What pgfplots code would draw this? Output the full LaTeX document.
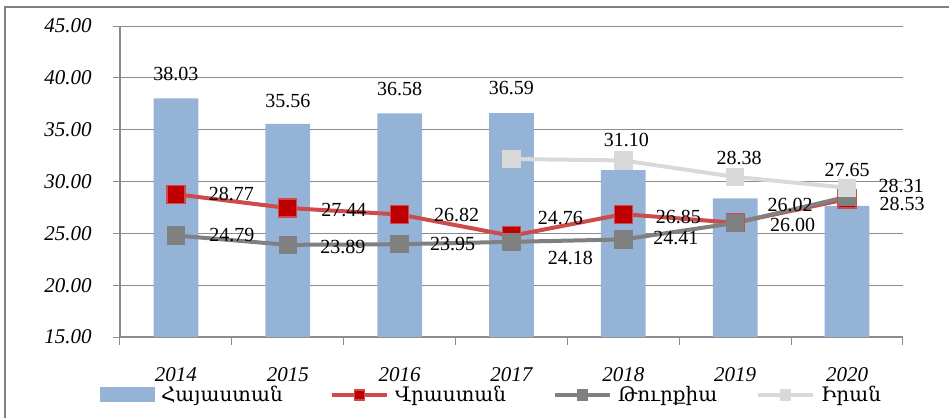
\documentclass[border=0pt]{standalone}
\usepackage{pgfplots}
\pgfplotsset{compat=1.18}
\usepackage{pgfplotstable}
\usepackage{fontspec}
\setmainfont{Liberation Serif}
\newfontfamily\armfont{DejaVu Serif}

\definecolor{barblue}{RGB}{149,179,215}
\definecolor{geoline}{RGB}{205,75,75}
\definecolor{geomark}{RGB}{192,0,0}
\definecolor{turline}{RGB}{128,128,128}
\definecolor{irnline}{RGB}{217,217,217}
\definecolor{axgray}{RGB}{140,140,140}
\definecolor{framegray}{RGB}{128,128,128}

\pgfplotsset{
  lineleg/.style={legend image code/.code={%
    \draw[##1, mark=none] (0pt,0pt) -- (27.5pt,0pt);
    \draw[##1, mark size=2.5pt] plot coordinates {(13.75pt,0pt)};}},
  barleg/.style={legend image code/.code={\fill[barblue] (0pt,-3.75pt) rectangle (27.5pt,3.75pt);}},
  vallabels/.style={
    point meta=y,
    nodes near coords={\pgfmathprintnumber[fixed,fixed zerofill,precision=2]{\pgfplotspointmeta}},
    visualization depends on={\thisrow{dx} \as \labdx},
    visualization depends on={\thisrow{dy} \as \labdy},
    every node near coord/.append style={anchor=center, inner sep=0pt,
      xshift=\labdx pt, yshift=\labdy pt,
      font=\fontsize{10}{12}\selectfont, text=black}},
}

% Armenia (bars): x, value, label offset in pt
\pgfplotstableread{
x y dx dy
0 38.03 0 12.25
1 35.56 0 11.5
2 36.58 0 12
3 36.59 0 12.5
4 31.10 1.5 15
5 28.38 2 20
6 27.65 0 17.75
}\arm

% Georgia
\pgfplotstableread{
x y dx dy
0 28.77 27.75 0
1 27.44 28 -1
2 26.82 28.5 -0.5
3 24.76 24.5 9
4 26.85 27.5 -1.5
5 26.02 27.5 9
6 28.31 27 6.5
}\geo

% Turkey
\pgfplotstableread{
x y dx dy
0 24.79 28 0
1 23.89 27.5 -1
2 23.95 26.5 0
3 24.18 29.5 -8
4 24.41 26.25 0.5
5 26.00 28.75 -1
6 28.53 27.5 -3.5
}\tur

% Iran
\pgfplotstableread{
x y
3 32.17
4 32.03
5 30.44
6 29.40
}\irn

\begin{document}
\begin{tikzpicture}
\path[use as bounding box] (-60pt,-40.5pt) rectangle (414.5pt,168.5pt);
\draw[framegray, line width=1pt] (-57.5pt,-45pt) -- (-57.5pt,165pt) -- (420pt,165pt);
\begin{axis}[
  scale only axis,
  width=391.5pt, height=155.5pt,
  xmin=-0.5, xmax=6.5,
  ymin=15, ymax=45,
  ytick={15,20,...,45},
  xtick={0,...,6},
  xticklabels={2014,2015,2016,2017,2018,2019,2020},
  minor xtick={-0.5,0.5,...,6.5},
  axis x line*=bottom,
  axis y line*=left,
  axis line style={axgray, line width=0.6pt},
  ymajorgrids,
  grid style={axgray, line width=0.5pt},
  tick align=outside,
  major tick length=3.5pt,
  minor tick length=4pt,
  xtick style={draw=none},
  minor x tick style={draw=axgray, line width=0.5pt},
  ytick style={axgray, line width=0.5pt},
  /pgf/number format/assume math mode=true,
  y tick label style={/pgf/number format/.cd, fixed, fixed zerofill, precision=2, /tikz/.cd,
    font=\itshape\fontsize{10.5}{12}\selectfont, anchor=east, inner sep=0pt, xshift=-10.5pt},
  x tick label style={font=\itshape\fontsize{10.5}{12}\selectfont, anchor=center, inner sep=0pt, yshift=-15.5pt},
  legend columns=4,
  legend style={draw=none, fill=none, inner sep=0pt, outer sep=0pt,
    at={(axis description cs:-0.0255,-0.1865)}, anchor=west,
    font=\armfont\fontsize{10}{12}\selectfont,
    nodes={inner sep=0pt},
    /tikz/every odd column/.append style={column sep=3pt}},
]
\addplot[ybar, bar width=0.4, fill=barblue, draw=none, vallabels, barleg]
  table[x=x, y=y] {\arm};
\addlegendentry{\makebox[84.5pt][l]{Հայաստան}}

\addplot[geoline, line width=2pt, mark=square*,
  mark size=4.5pt, mark options={solid, fill=geomark, draw=geoline, line width=0.6pt},
  vallabels, lineleg] table[x=x, y=y] {\geo};
\addlegendentry{\makebox[79pt][l]{Վրաստան}}

\addplot[turline, line width=2pt, mark=square*,
  mark size=4.3pt, mark options={solid, fill=turline, draw=turline, line width=0.6pt},
  vallabels, lineleg] table[x=x, y=y] {\tur};
\addlegendentry{\makebox[69pt][l]{Թուրքիա}}

\addplot[irnline, line width=2pt, mark=square*,
  mark size=4.3pt, mark options={solid, fill=irnline, draw=irnline, line width=0.6pt},
  lineleg] table[x=x, y=y] {\irn};
\addlegendentry{\makebox[40pt][l]{Իրան}}
\end{axis}
\end{tikzpicture}
\end{document}
